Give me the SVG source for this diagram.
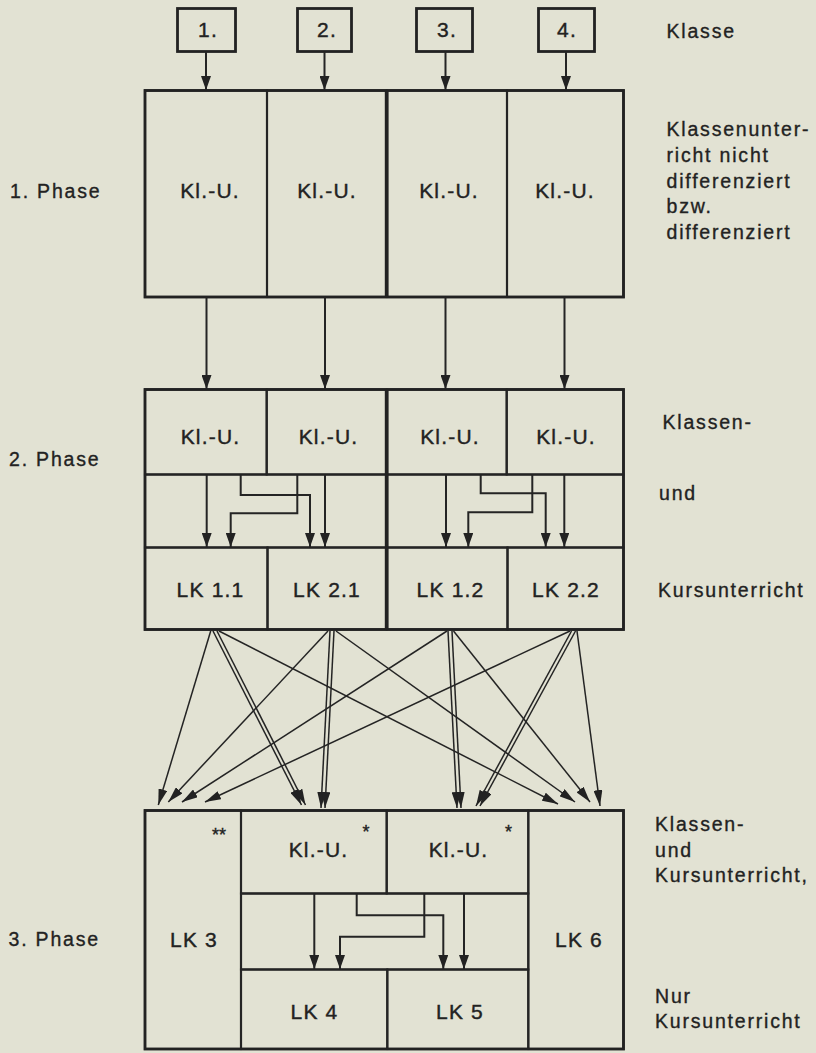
<svg xmlns="http://www.w3.org/2000/svg" width="816" height="1053" viewBox="0 0 816 1053">
<style>
  .ink{fill:none;stroke:#242424;stroke-width:2}
  .frame{fill:none;stroke:#222;stroke-width:2.8}
  .thick{stroke:#222;stroke-width:3.8;fill:none}
  .cell{fill:none;stroke:#242424;stroke-width:2.1}
  .t{font-family:"Liberation Sans",Arial,Helvetica,sans-serif;font-size:21px;letter-spacing:1.2px;fill:#222;stroke:#222;stroke-width:0.4;text-anchor:middle}
  .lab{font-family:"Liberation Sans",Arial,Helvetica,sans-serif;font-size:19.5px;letter-spacing:1.8px;fill:#222;stroke:#222;stroke-width:0.35}
  .star{font-family:"Liberation Sans",Arial,Helvetica,sans-serif;font-size:18px;fill:#222;stroke:#222;stroke-width:0.4;text-anchor:middle}
  .arr{fill:none;stroke:#242424;stroke-width:2;marker-end:url(#ah)}
  .fan{fill:none;stroke:#242424;stroke-width:1.5;marker-end:url(#fh)}
</style>
<defs>
  <marker id="ah" viewBox="0 0 14 10" refX="14" refY="5" markerWidth="14" markerHeight="10" markerUnits="userSpaceOnUse" orient="auto">
    <path d="M0,0 L14,5 L0,10 z" fill="#222"/>
  </marker>
  <marker id="fh" viewBox="0 0 16 9" refX="16" refY="4.5" markerWidth="16" markerHeight="9" markerUnits="userSpaceOnUse" orient="auto">
    <path d="M0,0 L16,4.5 L0,9 z" fill="#222"/>
  </marker>
</defs>
<rect x="0" y="0" width="816" height="1053" fill="#e2e2d3"/>

<!-- Klasse boxes -->
<g id="klasse-1"><rect class="frame" x="177.5" y="8.5" width="58" height="43"/><text class="t" x="208" y="37">1.</text></g>
<g id="klasse-2"><rect class="frame" x="297.5" y="8.5" width="54" height="43"/><text class="t" x="327" y="37">2.</text></g>
<g id="klasse-3"><rect class="frame" x="416.5" y="8.5" width="56" height="43"/><text class="t" x="447" y="37">3.</text></g>
<g id="klasse-4"><rect class="frame" x="538.5" y="8.5" width="56" height="43"/><text class="t" x="567" y="37">4.</text></g>

<!-- Phase 1 -->
<g id="p1-c1"><rect class="cell" x="145" y="90.5" width="122" height="206.5"/><text class="t" x="210" y="198">Kl.-U.</text></g>
<g id="p1-c2"><rect class="cell" x="267" y="90.5" width="119.7" height="206.5"/><text class="t" x="327" y="198">Kl.-U.</text></g>
<g id="p1-c3"><rect class="cell" x="386.7" y="90.5" width="120.3" height="206.5"/><text class="t" x="449" y="198">Kl.-U.</text></g>
<g id="p1-c4"><rect class="cell" x="507" y="90.5" width="116.5" height="206.5"/><text class="t" x="565" y="198">Kl.-U.</text></g>
<g id="p1-frame"><rect class="frame" x="145" y="90.5" width="478.5" height="206.5"/><line class="thick" x1="386.7" y1="90.5" x2="386.7" y2="297"/></g>

<!-- Phase 2 -->
<g id="p2-k1"><rect class="cell" x="145" y="389.5" width="121.7" height="85"/><text class="t" x="210.5" y="443.5">Kl.-U.</text></g>
<g id="p2-k2"><rect class="cell" x="266.7" y="389.5" width="120" height="85"/><text class="t" x="328.5" y="443.5">Kl.-U.</text></g>
<g id="p2-k3"><rect class="cell" x="386.7" y="389.5" width="120" height="85"/><text class="t" x="450" y="443.5">Kl.-U.</text></g>
<g id="p2-k4"><rect class="cell" x="506.7" y="389.5" width="116.8" height="85"/><text class="t" x="566" y="443.5">Kl.-U.</text></g>
<g id="p2-mid"><rect class="cell" x="145" y="474.5" width="478.5" height="73"/></g>
<g id="p2-lk11"><rect class="cell" x="145" y="547.5" width="122.5" height="82"/><text class="t" x="210.5" y="597">LK 1.1</text></g>
<g id="p2-lk21"><rect class="cell" x="267.5" y="547.5" width="119.2" height="82"/><text class="t" x="327" y="597">LK 2.1</text></g>
<g id="p2-lk12"><rect class="cell" x="386.7" y="547.5" width="120.8" height="82"/><text class="t" x="450.5" y="597">LK 1.2</text></g>
<g id="p2-lk22"><rect class="cell" x="507.5" y="547.5" width="116" height="82"/><text class="t" x="566" y="597">LK 2.2</text></g>
<g id="p2-frame"><rect class="frame" x="145" y="389.5" width="478.5" height="240"/><line class="thick" x1="386.7" y1="389.5" x2="386.7" y2="629.5"/></g>

<!-- Phase 3 -->
<g id="p3-lk3"><rect class="cell" x="145" y="810.5" width="96" height="238.5"/><text class="t" x="194" y="947">LK 3</text><text class="star" x="219" y="841">**</text></g>
<g id="p3-k1"><rect class="cell" x="241" y="810.5" width="145.7" height="83"/><text class="t" x="318.5" y="857">Kl.-U.</text><text class="star" x="366" y="838">*</text></g>
<g id="p3-k2"><rect class="cell" x="386.7" y="810.5" width="141.6" height="83"/><text class="t" x="458.5" y="857">Kl.-U.</text><text class="star" x="508.5" y="838">*</text></g>
<g id="p3-mid"><rect class="cell" x="241" y="893.5" width="287.3" height="76"/></g>
<g id="p3-lk4"><rect class="cell" x="241" y="969.5" width="146.3" height="79.5"/><text class="t" x="314.5" y="1018.5">LK 4</text></g>
<g id="p3-lk5"><rect class="cell" x="387.3" y="969.5" width="141" height="79.5"/><text class="t" x="460" y="1018.5">LK 5</text></g>
<g id="p3-lk6"><rect class="cell" x="528.3" y="810.5" width="95.2" height="238.5"/><text class="t" x="579" y="947">LK 6</text></g>
<g id="p3-frame"><rect class="frame" x="145" y="810.5" width="478.5" height="238.5"/></g>

<!-- Left labels -->
<g id="labels-left">
  <text class="lab" x="10" y="198">1. Phase</text>
  <text class="lab" x="9" y="466">2. Phase</text>
  <text class="lab" x="8.5" y="946">3. Phase</text>
</g>

<!-- Right labels -->
<g id="labels-right">
  <text class="lab" x="666.5" y="38">Klasse</text>
  <text class="lab" x="666.5" y="136">Klassenunter-</text>
  <text class="lab" x="666.5" y="162">richt nicht</text>
  <text class="lab" x="666.5" y="188">differenziert</text>
  <text class="lab" x="666.5" y="213">bzw.</text>
  <text class="lab" x="666.5" y="239">differenziert</text>
  <text class="lab" x="662.5" y="429">Klassen-</text>
  <text class="lab" x="659" y="500">und</text>
  <text class="lab" x="658" y="596.5">Kursunterricht</text>
  <text class="lab" x="655" y="831">Klassen-</text>
  <text class="lab" x="655" y="857">und</text>
  <text class="lab" x="655" y="882">Kursunterricht,</text>
  <text class="lab" x="655" y="1003">Nur</text>
  <text class="lab" x="655" y="1028">Kursunterricht</text>
</g>

<!-- Connectors -->
<g id="connectors">
  <!-- Klasse to phase 1 -->
  <line class="arr" x1="206" y1="52" x2="206" y2="90"/>
  <line class="arr" x1="324.5" y1="52" x2="324.5" y2="90"/>
  <line class="arr" x1="445.5" y1="52" x2="445.5" y2="90"/>
  <line class="arr" x1="566" y1="52" x2="566" y2="90"/>
  <!-- phase 1 to phase 2 -->
  <line class="arr" x1="206.5" y1="297" x2="206.5" y2="389"/>
  <line class="arr" x1="325" y1="297" x2="325" y2="389"/>
  <line class="arr" x1="445.5" y1="297" x2="445.5" y2="389"/>
  <line class="arr" x1="564.5" y1="297" x2="564.5" y2="389"/>
  <!-- phase 2 internal -->
  <line class="arr" x1="206.7" y1="474.5" x2="206.7" y2="547"/>
  <line class="arr" x1="325" y1="474.5" x2="325" y2="547"/>
  <polyline class="arr" points="240.7,474.5 240.7,495 310,495 310,547"/>
  <polyline class="arr" points="297.3,474.5 297.3,513.3 230.7,513.3 230.7,547"/>
  <line class="arr" x1="446" y1="474.5" x2="446" y2="547"/>
  <line class="arr" x1="564.3" y1="474.5" x2="564.3" y2="547"/>
  <polyline class="arr" points="480.7,474.5 480.7,493.3 545.7,493.3 545.7,547"/>
  <polyline class="arr" points="532.3,474.5 532.3,512.3 468.3,512.3 468.3,547"/>
  <!-- phase 2 to phase 3 fan -->
  <line class="fan" x1="210.7" y1="631" x2="158.3" y2="805"/>
  <line class="fan" x1="213" y1="631" x2="301.5" y2="805"/>
  <line class="fan" x1="217" y1="631" x2="305.5" y2="805"/>
  <line class="fan" x1="219" y1="631" x2="558" y2="804"/>
  <line class="fan" x1="328" y1="631" x2="168.3" y2="802"/>
  <line class="fan" x1="330" y1="631" x2="321" y2="808"/>
  <line class="fan" x1="334" y1="631" x2="325" y2="808"/>
  <line class="fan" x1="336" y1="631" x2="575" y2="802"/>
  <line class="fan" x1="447" y1="631" x2="182" y2="802"/>
  <line class="fan" x1="448" y1="631" x2="457" y2="808"/>
  <line class="fan" x1="452" y1="631" x2="461" y2="808"/>
  <line class="fan" x1="453.5" y1="631" x2="590" y2="802"/>
  <line class="fan" x1="570" y1="631" x2="205" y2="802"/>
  <line class="fan" x1="571.5" y1="631" x2="476" y2="806"/>
  <line class="fan" x1="575.5" y1="631" x2="480" y2="806"/>
  <line class="fan" x1="577" y1="631" x2="600" y2="806"/>
  <!-- phase 3 internal -->
  <line class="arr" x1="314.3" y1="893.5" x2="314.3" y2="969"/>
  <line class="arr" x1="464" y1="893.5" x2="464" y2="969"/>
  <polyline class="arr" points="356.7,893.5 356.7,915.3 443.3,915.3 443.3,969"/>
  <polyline class="arr" points="424.3,893.5 424.3,936.7 340,936.7 340,969"/>
</g>
</svg>
